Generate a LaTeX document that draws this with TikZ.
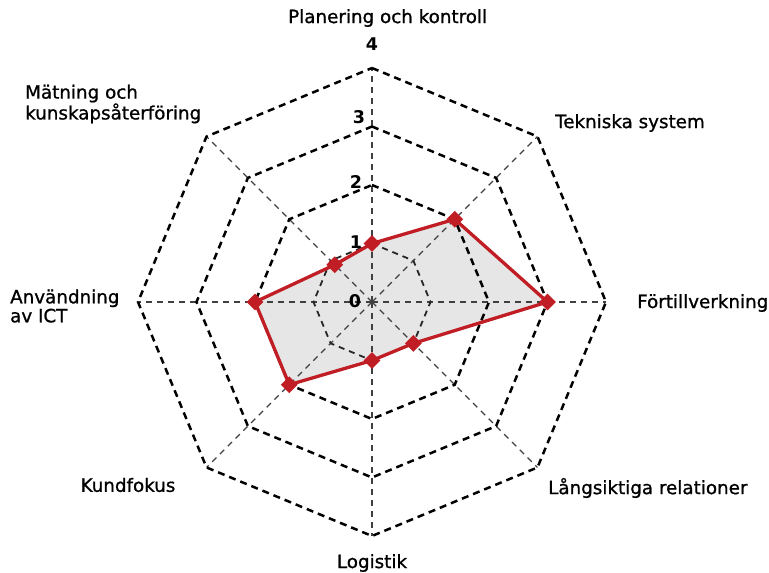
\documentclass[tikz,border=0pt]{standalone}
\usepackage{fontspec}
\setmainfont{DejaVu Sans}
\newfontfamily\labelfont{DejaVu Sans}[FakeBold=1]
\usetikzlibrary{shapes.geometric}
\definecolor{serie}{RGB}{192,30,36}
\definecolor{area}{RGB}{230,230,230}
\begin{document}
\begin{tikzpicture}[x=1pt,y=1pt,
  ring/.style={draw=black, line width=2.5pt, dash pattern=on 7pt off 5pt},
  innerring/.style={draw=black!85, line width=1.8pt, dash pattern=on 6pt off 5pt},
  spoke/.style={draw=black!75, line width=1.4pt, dash pattern=on 6pt off 5pt},
  lbl/.style={font=\labelfont\fontsize{18.3}{19}\selectfont, inner sep=0pt, align=left},
  num/.style={font=\bfseries\fontsize{17.5}{19}\selectfont, inner sep=0pt},
  serieline/.style={draw=serie, line width=3.3pt, line join=round},
  datum/.style={diamond, fill=serie, minimum size=17pt, inner sep=0pt}]
\useasboundingbox (0,0) rectangle (769,573);
\coordinate (C) at (372,271);
\begin{scope}[shift={(372,271)}]
  % axis end points and data points
  \foreach \a/\v [count=\i] in {90/1,45/2,0/3,-45/1,-90/1,-135/2,180/2,135/0.9} {
    \coordinate (A\i) at (\a:234);
    \coordinate (P\i) at (\a:58.5*\v);
  }
  % shaded area of the series
  \fill[area] (P1) -- (P2) -- (P3) -- (P4) -- (P5) -- (P6) -- (P7) -- (P8) -- cycle;
  % spokes
  \foreach \i in {1,...,8} { \draw[spoke] (C) -- (A\i); }
  % rings
  \draw[innerring] (90:58.5) -- (45:58.5) -- (0:58.5) -- (-45:58.5) -- (-90:58.5) -- (-135:58.5) -- (180:58.5) -- (135:58.5) -- cycle;
  \foreach \r in {117,175.5,234} {
    \draw[ring] (90:\r) -- (45:\r) -- (0:\r) -- (-45:\r) -- (-90:\r) -- (-135:\r) -- (180:\r) -- (135:\r) -- cycle;
  }
  % series outline and markers
  \draw[serieline] (P1) -- (P2) -- (P3) -- (P4) -- (P5) -- (P6) -- (P7) -- (P8) -- cycle;
  \foreach \i in {1,...,8} { \node[datum] (M\i) at (P\i) {}; }
\end{scope}
% scale values
\node[num] (n4) at (372,529) {4};
\node[num] (n3) at (359,456) {3};
\node[num] (n2) at (356,391) {2};
\node[num] (n1) at (356,331) {1};
\node[num] (n0) at (355,272) {0};
% axis labels
\node[lbl, anchor=west] (t1) at (288,555) {Planering och kontroll};
\node[lbl, anchor=west] (t2) at (555,450) {Tekniska system};
\node[lbl, anchor=west] (t3) at (637,270) {Förtillverkning};
\node[lbl, anchor=west] (t4) at (548,85) {Långsiktiga relationer};
\node[lbl] (t5) at (372,10) {Logistik};
\node[lbl] (t6) at (128,88) {Kundfokus};
\node[lbl, anchor=west] (t7) at (10,267) {Användning\\av ICT};
\node[lbl, anchor=west] (t8) at (25,469) {Mätning och\\kunskapsåterföring};
\end{tikzpicture}
\end{document}
